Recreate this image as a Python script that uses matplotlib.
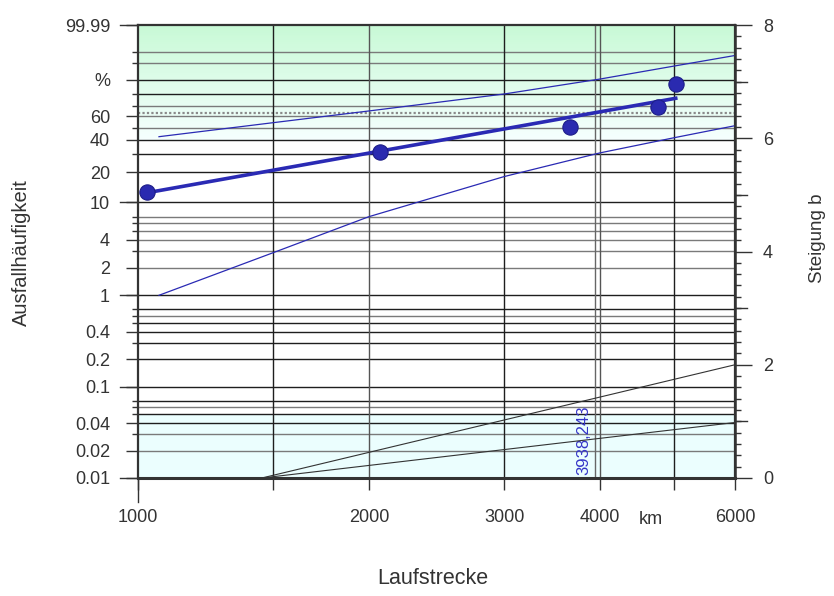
import numpy as np
import matplotlib
matplotlib.use("Agg")
import matplotlib.pyplot as plt
from matplotlib.ticker import FixedLocator, NullFormatter
from matplotlib.colors import to_rgb

plt.rcParams["font.family"] = ["Liberation Sans", "DejaVu Sans"]

INK, BLUE, GRID, LGRID = "#333333", "#2a2ab4", "#1e1e1e", "#7a7a7a"

# failure data (median ranks) and fitted Weibull line
pts_km = [1028, 2067, 3655, 4764, 5033]
pts_pct = [12.8, 31.4, 50.2, 68.5, 87.5]
fit_km = [1027, 5049]
fit_pct = [12.5, 76.8]

# confidence bounds
conf_km = [1065, 1500, 2000, 3000, 4000, 5000, 6000]
upper_pct = [42.3, 54.3, 65.1, 80.1, 90.5, 96.2, 98.6]
lower_pct = [1.0, 2.9, 7.05, 18.2, 30.6, 41.5, 51.6]

# slope lines on the right axis (Steigung b)
bline_km = [1450, 6000]
bline_hi = [0.0, 2.0]
bline_lo = [0.0, 0.98]

char_life = 3938
char_label = "3938,243"

# axis ticks
y_major = [0.01, 0.02, 0.04, 0.1, 0.2, 0.4, 1, 2, 4, 10, 20, 40, 60, 90, 99.99]
y_major_lbl = ["0.01", "0.02", "0.04", "0.1", "0.2", "0.4", "1", "2", "4",
               "10", "20", "40", "60", "%", "99.99"]
y_minor = [0.03, 0.05, 0.06, 0.07, 0.3, 0.5, 0.6, 0.7, 3, 5, 6, 7,
           30, 50, 70, 80, 97, 99]
y_decade = [0.01, 0.1, 1, 10, 99.99]
y_grid_dark = [0.04, 0.05, 0.07, 0.1, 0.2, 0.3, 0.4, 0.5, 0.7, 1, 10, 20, 30, 40, 80, 90]
y_grid_light = [0.02, 0.03, 0.06, 0.6, 2, 3, 4, 5, 6, 7, 50, 60, 70, 97, 99]
x_major = [1000, 2000, 3000, 4000, 6000]
x_major_lbl = ["1000", "2000", "3000", "4000", "6000"]
x_minor = [1500, 5000]
x_grid_dark = [1500, 3000, 5000]
x_grid_light = [2000, 4000]


def fwd(p):
    p = np.clip(np.asarray(p, dtype=float), 1e-7, 100 - 1e-7)
    return np.log(-np.log(1 - p / 100.0))


def inv(y):
    return 100.0 * (1 - np.exp(-np.exp(y)))


fig = plt.figure(figsize=(8.34, 5.96), dpi=100)
W, H = 834, 596
L, R, T, B = 138, 735, 25, 478
ax = fig.add_axes([L / W, 1 - B / H, (R - L) / W, (B - T) / H])
ax.set_xscale("log")
ax.set_yscale("function", functions=(fwd, inv))
ax.set_xlim(1000, 6000)
ax.set_ylim(0.01, 99.99)

# background: green gradient at the top, cyan band at the bottom
c_top, c_bot = np.array(to_rgb("#c8f9d6")), np.array(to_rgb("#f5fffe"))
edges = inv(np.linspace(fwd(99.99), fwd(40), 61))
for i in range(60):
    c = c_top + (c_bot - c_top) * i / 59
    ax.axhspan(edges[i + 1], edges[i], color=c, lw=0, zorder=0)
ax.axhspan(0.01, 0.05, color="#ebfefe", lw=0, zorder=0)

# grid
for v in y_grid_dark:
    ax.axhline(v, color=GRID, lw=1.0, zorder=1)
for v in y_grid_light:
    ax.axhline(v, color=LGRID, lw=1.0, zorder=1)
ax.axhline(63.2, color="#8a8a8a", lw=1.6, ls=(0, (1, 1)), zorder=1)
for v in x_grid_dark:
    ax.axvline(v, color=GRID, lw=1.0, zorder=1)
for v in x_grid_light:
    ax.axvline(v, color="#555555", lw=1.0, zorder=1)
ax.axvline(char_life, color="#666666", lw=1.0, zorder=1)

# data
ax.plot(conf_km, upper_pct, color=BLUE, lw=0.9, zorder=3)
ax.plot(conf_km, lower_pct, color=BLUE, lw=0.9, zorder=3)
ax.plot(fit_km, fit_pct, color=BLUE, lw=2.6, zorder=3, solid_capstyle="butt")
ax.plot(pts_km, pts_pct, "o", ms=11, color="#2a2ab0", mec="#1d1d88",
        mew=0.8, zorder=4)

ax.text(char_life - 40, 0.0108, char_label, rotation=90, ha="right",
        va="bottom", color="#3535c8", fontsize=12, zorder=5)

# left axis ticks
ax.yaxis.set_major_locator(FixedLocator(y_major))
ax.set_yticklabels(y_major_lbl)
ax.yaxis.set_minor_locator(FixedLocator(y_minor))
ax.yaxis.set_minor_formatter(NullFormatter())
ax.tick_params(axis="y", which="major", length=8.6, width=1, color=INK,
               labelsize=13, labelcolor=INK, pad=11.5)
ax.tick_params(axis="y", which="minor", length=4.3, width=1, color=INK)
for v in y_decade:
    ax.plot([-18 / (R - L), 0], [v, v], transform=ax.get_yaxis_transform(),
            color=INK, lw=1, clip_on=False)

# bottom ticks
ax.xaxis.set_major_locator(FixedLocator(x_major))
ax.set_xticklabels(x_major_lbl)
ax.xaxis.set_minor_locator(FixedLocator(x_minor))
ax.xaxis.set_minor_formatter(NullFormatter())
ax.tick_params(axis="x", which="both", length=8.6, width=1, color=INK,
               labelsize=13, labelcolor=INK, pad=14)
ax.plot([1000, 1000], [0, -24 / (B - T)], transform=ax.get_xaxis_transform(),
        color=INK, lw=1, clip_on=False)

for sp in ax.spines.values():
    sp.set_color(INK)
    sp.set_linewidth(1.6)
ax.spines["bottom"].set_linewidth(2.2)

# right axis: Steigung b
ax2 = ax.twinx()
ax2.set_ylim(0, 8)
ax2.plot(bline_km, bline_hi, color="#333333", lw=0.8)
ax2.plot(bline_km, bline_lo, color="#333333", lw=0.8)
ax2.set_yticks([0, 2, 4, 6, 8])
ax2.yaxis.set_minor_locator(FixedLocator(np.arange(0, 8.01, 0.2)))
ax2.tick_params(axis="y", which="major", length=12.2, width=1, color=INK,
                labelsize=13, labelcolor=INK, pad=8)
ax2.tick_params(axis="y", which="minor", length=4.3, width=1, color=INK)
for v in [1, 3, 5, 7]:
    ax2.plot([1, 1 + 12 / (R - L)], [v, v], transform=ax2.get_yaxis_transform(),
             color=INK, lw=1, clip_on=False)
for sp in ax2.spines.values():
    sp.set_visible(False)
ax2.spines["right"].set_visible(True)
ax2.spines["right"].set_color(INK)
ax2.spines["right"].set_linewidth(1.8)

# labels
fig.text(651 / W, 1 - 520 / H, "km", ha="center", va="center",
         fontsize=13, color=INK)
fig.text(433 / W, 1 - 579 / H, "Laufstrecke", ha="center", va="center",
         fontsize=15.5, color=INK)
fig.text(21 / W, 1 - 253 / H, "Ausfallhäufigkeit", ha="center", va="center",
         rotation=90, fontsize=14.5, color=INK)
fig.text(818 / W, 1 - 238 / H, "Steigung b", ha="center", va="center",
         rotation=90, fontsize=13.5, color=INK)

fig.savefig("out.png", dpi=100, facecolor="white")
